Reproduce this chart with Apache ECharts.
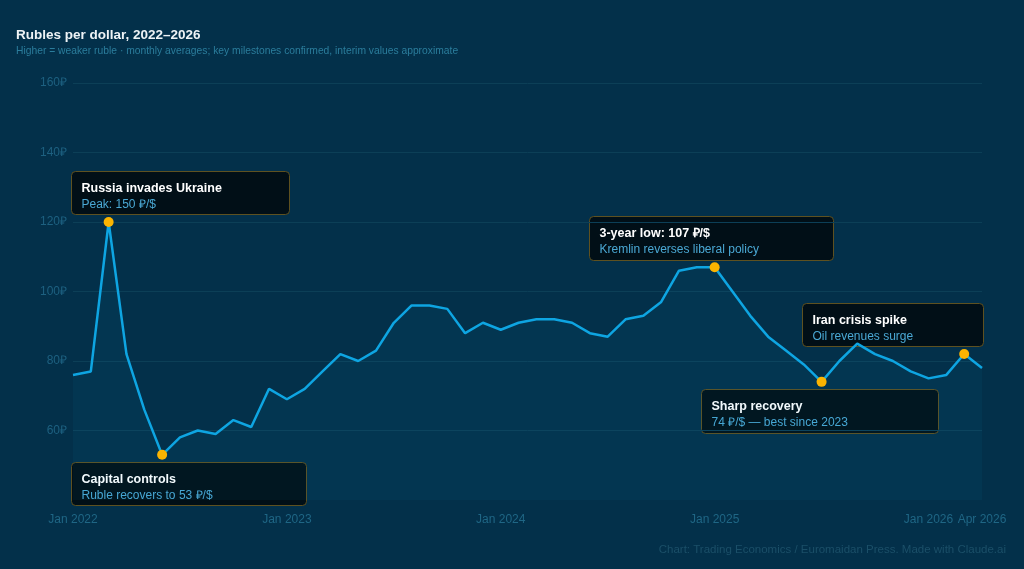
<!DOCTYPE html>
<html>
<head>
<meta charset="utf-8">
<script src="https://cdn.jsdelivr.net/npm/echarts@6/dist/echarts.min.js"></script>
<style>
  html, body { margin: 0; padding: 0; background: #03304a; }
  #main { width: 1024px; height: 569px; }
</style>
</head>
<body>
<div id="main"></div>
<script>
// monthly labels, Jan 2022 .. Apr 2026
var months = [];
var monNames = ['Jan', 'Feb', 'Mar', 'Apr', 'May', 'Jun', 'Jul', 'Aug', 'Sep', 'Oct', 'Nov', 'Dec'];
for (var y = 2022; y <= 2026; y++) {
    for (var m = 0; m < 12; m++) {
        if (y === 2026 && m > 3) break;
        months.push(monNames[m] + ' ' + y);
    }
}

// rubles per dollar
var rubles = [
    76, 77, 120, 82, 66, 53, 58, 60, 59, 63, 61, 72,
    69, 72, 77, 82, 80, 83, 91, 96, 96, 95, 88, 91,
    89, 91, 92, 92, 91, 88, 87, 92, 93, 97, 106, 107,
    107, 100, 93, 87, 83, 79, 74, 80, 85, 82, 80, 77,
    75, 76, 82, 78
];

// indexes of the marked milestones
var milestoneIdx = [2, 5, 36, 42, 50];
var noteTitles = ['Russia invades Ukraine', 'Capital controls', '3-year low: 107 \u20bd/$', 'Sharp recovery', 'Iran crisis spike'];
var noteTexts = ['Peak: 150 \u20bd/$', 'Ruble recovers to 53 \u20bd/$', 'Kremlin reverses liberal policy', '74 \u20bd/$ \u2014 best since 2023', 'Oil revenues surge'];

var yTicks = [40, 60, 80, 100, 120, 140, 160];

// box layout (x, y, w, h) for each note
var boxes = [
    [71, 171, 218, 43],
    [71, 462, 235, 43],
    [589, 216, 244, 44],
    [701, 389, 237, 44],
    [802, 303, 181, 43]
];

var chart = echarts.init(document.getElementById('main'));

var graphics = [
    {
        type: 'text', left: 16, top: 28,
        style: { text: 'Rubles per dollar, 2022\u20132026', fill: '#eef3f6', font: 'bold 13.5px "Liberation Sans", Arial, sans-serif' }
    },
    {
        type: 'text', left: 16, top: 46,
        style: { text: 'Higher = weaker ruble \u00b7 monthly averages; key milestones confirmed, interim values approximate', fill: '#2b7d9c', font: '10.3px "Liberation Sans", Arial, sans-serif' }
    },
    {
        type: 'text', right: 18, top: 544,
        style: { text: 'Chart: Trading Economics / Euromaidan Press. Made with Claude.ai', fill: '#1b4f68', font: '11.5px "Liberation Sans", Arial, sans-serif' }
    }
];

boxes.forEach(function(b, i) {
    graphics.push({
        type: 'group', left: b[0], top: b[1], z: 10,
        children: [
            { type: 'rect', shape: { x: 0, y: 0, width: b[2], height: b[3], r: 4 },
              style: { fill: '#010f17', stroke: '#5e5120', lineWidth: 1 } },
            { type: 'text', x: 10, y: 11,
              style: { text: noteTitles[i], fill: '#ffffff', font: 'bold 12.5px "Liberation Sans", Arial, sans-serif' } },
            { type: 'text', x: 10, y: 27,
              style: { text: noteTexts[i], fill: '#4aa8d4', font: '12px "Liberation Sans", Arial, sans-serif' } }
        ]
    });
});

var option = {
    backgroundColor: '#03304a',
    animation: false,
    grid: { left: 73, right: 42, top: 83, bottom: 69 },
    xAxis: {
        type: 'category',
        data: months,
        boundaryGap: false,
        axisLine: { show: false },
        axisTick: { show: false },
        axisLabel: {
            color: '#1f6685',
            fontSize: 12,
            fontFamily: '"Liberation Sans", Arial, sans-serif',
            margin: 14,
            interval: function(idx) { return idx % 12 === 0 || idx === months.length - 1; }
        },
        splitLine: { show: false }
    },
    yAxis: {
        type: 'value',
        min: yTicks[0],
        max: yTicks[yTicks.length - 1],
        interval: 20,
        axisLine: { show: false },
        axisTick: { show: false },
        axisLabel: {
            showMinLabel: false,
            color: '#1d6080',
            fontSize: 12,
            fontFamily: '"Liberation Sans", Arial, sans-serif',
            margin: 6,
            formatter: function(v) { return v + '\u20bd'; }
        },
        splitLine: { showMinLine: false, lineStyle: { color: '#0c3f57', width: 1 } }
    },
    series: [
        {
            type: 'line',
            data: rubles,
            symbol: 'none',
            lineStyle: { color: '#0ea5e2', width: 2.5 },
            areaStyle: { color: 'rgba(14,165,226,0.08)' },
            z: 3
        },
        {
            type: 'scatter',
            data: milestoneIdx.map(function(i) { return [i, rubles[i]]; }),
            symbolSize: 10,
            itemStyle: { color: '#fbb400', opacity: 1 },
            z: 5
        }
    ],
    graphic: graphics
};

chart.setOption(option);
</script>
</body>
</html>
